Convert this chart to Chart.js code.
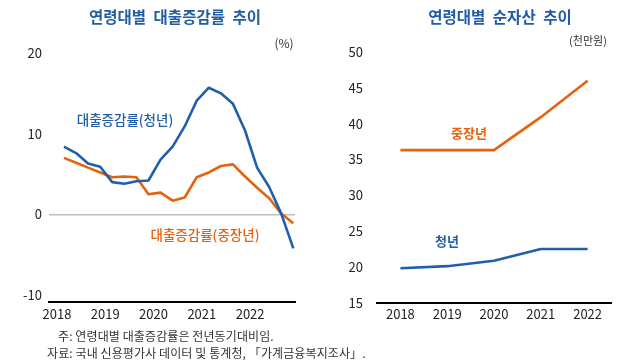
<!DOCTYPE html>
<html><head><meta charset="utf-8">
<script src="https://cdn.jsdelivr.net/npm/chart.js@4"></script>
<style>
html,body{margin:0;padding:0;background:#fff;}
body{width:640px;height:360px;position:relative;overflow:hidden;font-family:'Noto Sans CJK KR','Noto Sans',sans-serif;}
.c{position:absolute;top:0;}
.t{position:absolute;white-space:nowrap;transform:translate(-50%,-50%);line-height:1;}
.l{position:absolute;white-space:nowrap;transform:translate(0,-50%);line-height:1;color:#333;font-size:12px;letter-spacing:0.1px;}
</style></head><body>
<canvas id="c1" class="c" style="left:0" width="320" height="360"></canvas>
<canvas id="c2" class="c" style="left:320px" width="320" height="360"></canvas>
<div class="t" style="left:175px;top:17px;font-size:15.5px;font-weight:bold;color:#215da6;word-spacing:4px">연령대별 대출증감률 추이</div>
<div class="t" style="left:500px;top:17px;font-size:15.5px;font-weight:bold;color:#215da6;word-spacing:4px">연령대별 순자산 추이</div>
<div class="t" style="left:284px;top:43px;font-size:12px;color:#333">(%)</div>
<div class="t" style="left:588px;top:40px;font-size:11px;color:#333">(천만원)</div>
<div class="t" style="left:125px;top:120px;font-size:13.5px;font-weight:500;color:#215da6">대출증감률(청년)</div>
<div class="t" style="left:205px;top:235px;font-size:13.5px;font-weight:500;color:#e5620e">대출증감률(중장년)</div>
<div class="t" style="left:469px;top:132px;font-size:13px;font-weight:bold;color:#e5620e">중장년</div>
<div class="t" style="left:447px;top:240px;font-size:13px;font-weight:bold;color:#215da6">청년</div>
<div class="l" style="left:58px;top:336px">주: 연령대별 대출증감률은 전년동기대비임.</div>
<div class="l" style="left:47px;top:353px">자료: 국내 신용평가사 데이터 및 통계청, 「가계금융복지조사」.</div>
<script>
// ---- data ----
const quarters = ['2018Q1','2018Q2','2018Q3','2018Q4','2019Q1','2019Q2','2019Q3','2019Q4','2020Q1','2020Q2','2020Q3','2020Q4','2021Q1','2021Q2','2021Q3','2021Q4','2022Q1','2022Q2','2022Q3','2022Q4'];
const loanYouth = [8.4,7.6,6.3,5.9,4.0,3.8,4.1,4.2,6.8,8.4,10.9,14.1,15.7,15.0,13.7,10.4,5.8,3.4,0.1,-4.2];
const loanMiddle = [7.0,6.4,5.8,5.2,4.6,4.7,4.6,2.5,2.7,1.7,2.1,4.6,5.2,6.0,6.2,4.7,3.3,2.0,0.1,-1.1];
const yearLabels = ['2018','2019','2020','2021','2022'];
const leftTicks = [-10,0,10,20];
const assetMiddle = [36.3,36.3,36.3,40.9,46.0];
const assetYouth = [19.8,20.1,20.85,22.5,22.5];

const BLUE='#1f5fad', ORANGE='#e5620e';
Chart.defaults.font.family="'Noto Sans CJK KR','Noto Sans',sans-serif";
Chart.defaults.color='#333';

const toXY = arr => arr.map((v,i)=>({x:i,y:v}));

new Chart(document.getElementById('c1'),{
  type:'line',
  data:{datasets:[
    {label:'대출증감률(청년)',data:toXY(loanYouth),borderColor:BLUE,borderWidth:2.6,pointRadius:0,tension:0,borderJoinStyle:'round'},
    {label:'대출증감률(중장년)',data:toXY(loanMiddle),borderColor:ORANGE,borderWidth:2.6,pointRadius:0,tension:0,borderJoinStyle:'round'}
  ]},
  options:{
    responsive:false,animation:false,devicePixelRatio:1,
    layout:{padding:{top:53,bottom:37.7,left:0,right:25}},
    plugins:{legend:{display:false},tooltip:{enabled:false}},
    scales:{
      x:{type:'linear',min:-1.24,max:19.14,
        afterBuildTicks:s=>{s.ticks=[0,4,8,12,16].map(v=>({value:v}));},
        afterFit:s=>{s.height=20;},
        ticks:{callback:v=>yearLabels[v/4],labelOffset:-7,padding:4,font:{size:13},color:'#222',autoSkip:false,maxRotation:0},
        grid:{display:false,drawTicks:false},
        border:{display:true,color:'#000',width:2}},
      y:{min:-10.89,max:20,
        afterBuildTicks:s=>{s.ticks=leftTicks.map(v=>({value:v}));},
        afterFit:s=>{s.width=49;},
        ticks:{padding:7,font:{size:13},color:'#222'},
        grid:{drawTicks:false,color:c=>c.tick&&c.tick.value===0?'#bdbdbd':'rgba(0,0,0,0)',lineWidth:1.5},
        border:{display:false}}
    }
  }
});

new Chart(document.getElementById('c2'),{
  type:'line',
  data:{labels:yearLabels,datasets:[
    {label:'중장년',data:assetMiddle,borderColor:ORANGE,borderWidth:2.6,pointRadius:0,tension:0,borderJoinStyle:'round'},
    {label:'청년',data:assetYouth,borderColor:BLUE,borderWidth:2.6,pointRadius:0,tension:0,borderJoinStyle:'round'}
  ]},
  options:{
    responsive:false,animation:false,devicePixelRatio:1,
    layout:{padding:{top:52,bottom:37.3,left:0,right:29}},
    plugins:{legend:{display:false},tooltip:{enabled:false}},
    scales:{
      x:{offset:true,
        afterFit:s=>{s.height=20;},
        ticks:{padding:4,font:{size:13},color:'#222',maxRotation:0},
        grid:{display:false,drawTicks:false},
        border:{display:true,color:'#000',width:2}},
      y:{min:15,max:50,
        afterFit:s=>{s.width=57;},
        ticks:{stepSize:5,padding:14,font:{size:13},color:'#222'},
        grid:{display:false,drawTicks:false},
        border:{display:false}}
    }
  }
});
</script>
</body></html>
